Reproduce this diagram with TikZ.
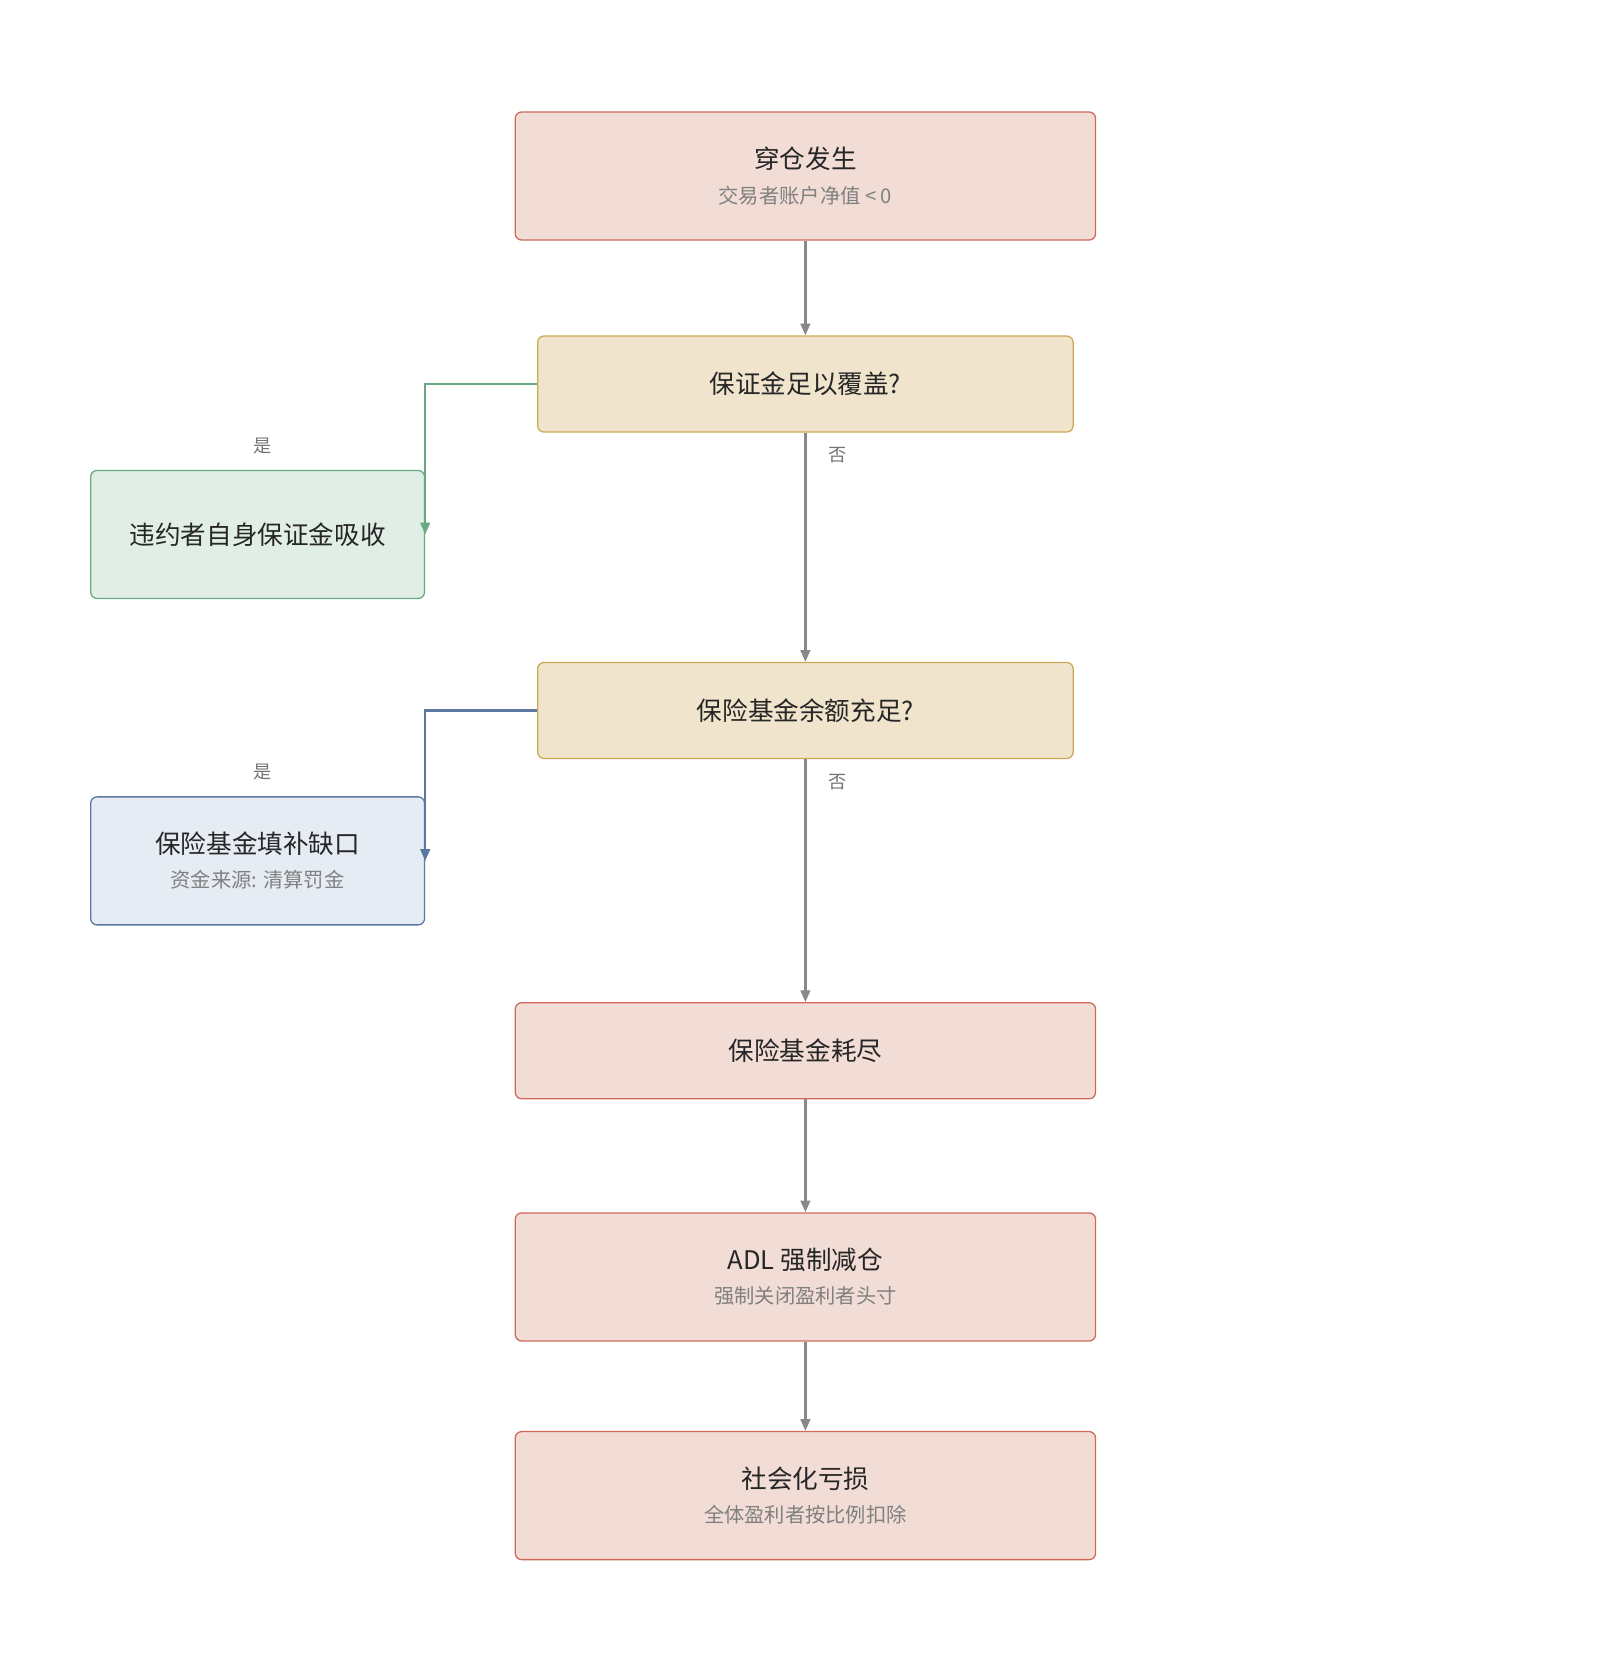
\documentclass[tikz,border=0pt]{standalone}
\usepackage{fontspec}
\setmainfont{Noto Sans CJK SC}
\usetikzlibrary{positioning,arrows.meta}
\definecolor{redfill}{HTML}{F2DCD6}
\definecolor{redline}{HTML}{D0695A}
\definecolor{yelfill}{HTML}{F0E4CC}
\definecolor{yelline}{HTML}{CCA955}
\definecolor{grnfill}{HTML}{E1EEE6}
\definecolor{grnline}{HTML}{6AA884}
\definecolor{blufill}{HTML}{E6ECF4}
\definecolor{bluline}{HTML}{5A78A0}
\definecolor{arrowgray}{HTML}{888888}
\tikzset{
	box/.style={draw, rectangle, rounded corners=6pt, line width=1.2pt, align=center, inner sep=0pt, font=\fontsize{24}{34}\selectfont, text=black!85},
	event/.style={box, fill=redfill, draw=redline, minimum width=544pt},
	check/.style={box, fill=yelfill, draw=yelline, minimum width=502pt, minimum height=90pt},
	side/.style={box, minimum width=313pt, minimum height=120pt},
	sub/.style={font=\fontsize{19}{24}\selectfont, text=black!50},
	lbl/.style={font=\fontsize{17}{20}\selectfont, text=black!55},
	flow/.style={line width=2.2pt, -{Triangle[length=11pt,width=9pt]}},
}
\newcommand{\twoline}[2]{#1\\[-2pt]{\fontsize{19}{24}\selectfont\color{black!50}#2}}
\begin{document}
\begin{tikzpicture}[x=1pt, y=-1pt]
	\useasboundingbox (0,0) rectangle (1500,1558);
	\node (start) [event, minimum height=120pt] at (755,165) {\twoline{穿仓发生}{交易者账户净值 < 0}};
	\node (margin) [check] at (755,360) {保证金足以覆盖?};
	\node (absorb) [side, fill=grnfill, draw=grnline] at (241.5,501) {违约者自身保证金吸收};
	\node (fund) [check] at (755,666) {保险基金余额充足?};
	\node (fill) [side, fill=blufill, draw=bluline] at (241.5,807) {\twoline{保险基金填补缺口}{资金来源: 清算罚金}};
	\node (empty) [event, minimum height=90pt] at (755,985) {保险基金耗尽};
	\node (adl) [event, minimum height=120pt] at (755,1197) {\twoline{ADL 强制减仓}{强制关闭盈利者头寸}};
	\node (social) [event, minimum height=120pt] at (755,1402) {\twoline{社会化亏损}{全体盈利者按比例扣除}};
	
	\begin{scope}[flow]
		\draw [arrowgray] (start) -- (margin);
		\draw [arrowgray] (margin) -- (fund);
		\draw [arrowgray] (fund) -- (empty);
		\draw [arrowgray] (empty) -- (adl);
		\draw [arrowgray] (adl) -- (social);
		\draw [grnline] (margin.west) -| (absorb.east);
		\draw [bluline] (fund.west) -| (fill.east);
	\end{scope}
	
	\node [lbl] at (246,418) {是};
	\node [lbl] at (785,427) {否};
	\node [lbl] at (246,724) {是};
	\node [lbl] at (785,733) {否};
\end{tikzpicture}
\end{document}
